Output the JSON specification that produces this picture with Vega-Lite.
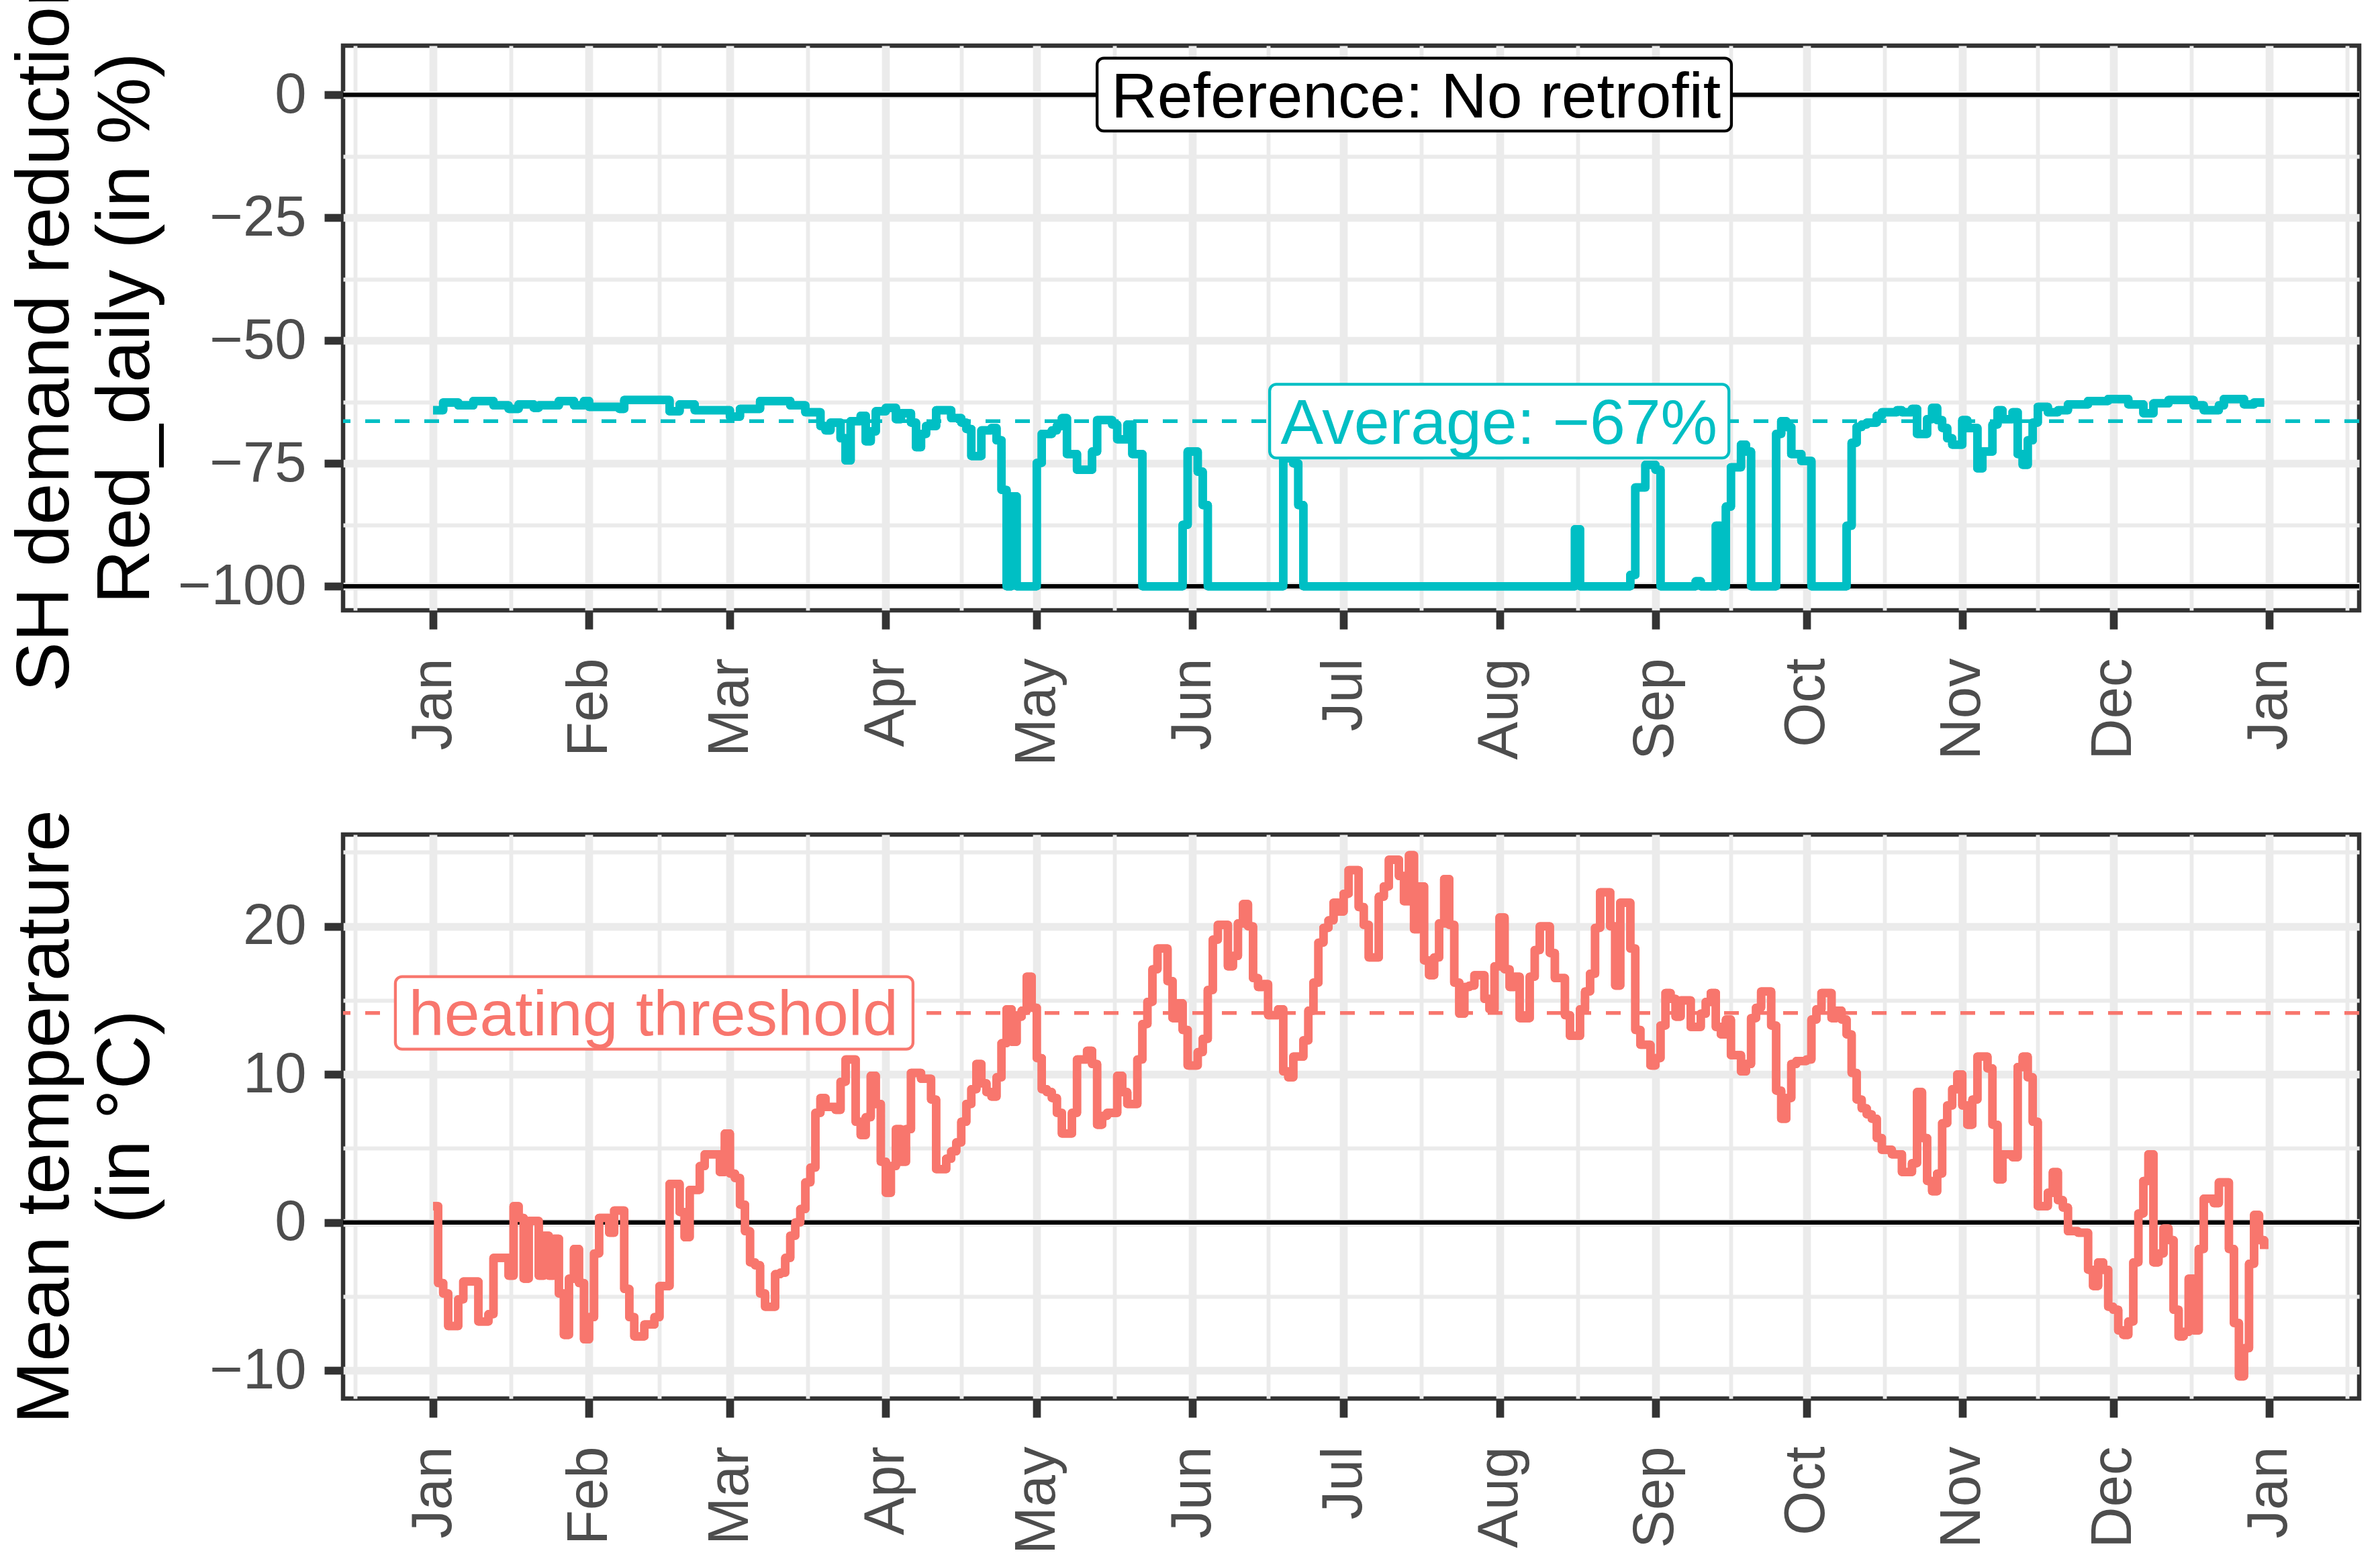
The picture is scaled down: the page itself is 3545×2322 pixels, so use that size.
{
  "$schema": "https://vega.github.io/schema/vega-lite/v6.json",
  "autosize": {"type": "none"},
  "padding": {"left": 511, "top": 68, "right": 3034, "bottom": 2254},
  "background": "white",
  "bounds": "flush",
  "spacing": 334,
  "config": {
    "font": "Liberation Sans",
    "view": {"stroke": "#333333", "strokeWidth": 6.5},
    "axis": {
      "domain": false,
      "gridColor": "#EBEBEB",
      "tickColor": "#333333",
      "tickSize": 28,
      "tickWidth": 11.7,
      "labelColor": "#4D4D4D",
      "labelFontSize": 85,
      "labelLimit": 1000,
      "labelOverlap": false,
      "labelFlush": false,
      "labelBound": false,
      "titleFontSize": 112,
      "titleColor": "black",
      "titleFontWeight": "normal",
      "titleLineHeight": 120,
      "titleLimit": 3000
    }
  },
  "datasets": {
    "reduction": [
      {"day": 0, "reduction": -64.2}, {"day": 2, "reduction": -62.6}, {"day": 5, "reduction": -63.2},
      {"day": 8, "reduction": -62.3}, {"day": 12, "reduction": -63.2}, {"day": 15, "reduction": -63.9},
      {"day": 17, "reduction": -63.0}, {"day": 20, "reduction": -63.7}, {"day": 21, "reduction": -63.2},
      {"day": 25, "reduction": -62.3}, {"day": 28, "reduction": -63.2}, {"day": 30, "reduction": -62.3},
      {"day": 31, "reduction": -63.5}, {"day": 37, "reduction": -63.9}, {"day": 38, "reduction": -62.1},
      {"day": 47, "reduction": -64.4}, {"day": 49, "reduction": -63.0}, {"day": 52, "reduction": -64.2},
      {"day": 59, "reduction": -65.5}, {"day": 61, "reduction": -63.9}, {"day": 65, "reduction": -62.3},
      {"day": 71, "reduction": -63.2}, {"day": 74, "reduction": -64.6}, {"day": 77, "reduction": -67.4},
      {"day": 78, "reduction": -68.3}, {"day": 79, "reduction": -66.7}, {"day": 81, "reduction": -69.9},
      {"day": 82, "reduction": -74.4}, {"day": 83, "reduction": -66.4}, {"day": 85, "reduction": -65.3},
      {"day": 86, "reduction": -70.5}, {"day": 87, "reduction": -68.5}, {"day": 88, "reduction": -64.4},
      {"day": 90, "reduction": -63.7}, {"day": 92, "reduction": -66.0}, {"day": 93, "reduction": -64.8},
      {"day": 95, "reduction": -66.7}, {"day": 96, "reduction": -71.7}, {"day": 97, "reduction": -69.0},
      {"day": 98, "reduction": -67.4}, {"day": 100, "reduction": -64.2}, {"day": 103, "reduction": -65.8},
      {"day": 105, "reduction": -66.7}, {"day": 106, "reduction": -68.0}, {"day": 107, "reduction": -73.5},
      {"day": 109, "reduction": -68.3}, {"day": 111, "reduction": -67.8}, {"day": 112, "reduction": -70.3},
      {"day": 113, "reduction": -80.4}, {"day": 114, "reduction": -100}, {"day": 115, "reduction": -81.7},
      {"day": 116, "reduction": -100}, {"day": 120, "reduction": -74.9}, {"day": 121, "reduction": -69.0},
      {"day": 123, "reduction": -68.3}, {"day": 124, "reduction": -67.4}, {"day": 125, "reduction": -65.8},
      {"day": 126, "reduction": -73.1}, {"day": 128, "reduction": -76.3}, {"day": 131, "reduction": -72.6},
      {"day": 132, "reduction": -66.2}, {"day": 135, "reduction": -67.1}, {"day": 136, "reduction": -70.1},
      {"day": 138, "reduction": -67.1}, {"day": 139, "reduction": -73.1}, {"day": 141, "reduction": -100},
      {"day": 149, "reduction": -87.5}, {"day": 150, "reduction": -72.6}, {"day": 152, "reduction": -76.7},
      {"day": 153, "reduction": -83.5}, {"day": 154, "reduction": -100}, {"day": 169, "reduction": -74.0},
      {"day": 171, "reduction": -75.0}, {"day": 172, "reduction": -83.5}, {"day": 173, "reduction": -100},
      {"day": 227, "reduction": -88.4}, {"day": 228, "reduction": -100}, {"day": 238, "reduction": -97.7},
      {"day": 239, "reduction": -79.9}, {"day": 241, "reduction": -75.3}, {"day": 243, "reduction": -76.3},
      {"day": 244, "reduction": -100}, {"day": 251, "reduction": -99.0}, {"day": 252, "reduction": -100},
      {"day": 255, "reduction": -87.7}, {"day": 256, "reduction": -100}, {"day": 257, "reduction": -83.8},
      {"day": 258, "reduction": -75.8}, {"day": 260, "reduction": -71.2}, {"day": 261, "reduction": -72.6},
      {"day": 262, "reduction": -100}, {"day": 267, "reduction": -69.0}, {"day": 268, "reduction": -66.4},
      {"day": 269, "reduction": -67.6}, {"day": 270, "reduction": -73.1}, {"day": 272, "reduction": -74.5},
      {"day": 274, "reduction": -100}, {"day": 281, "reduction": -87.7}, {"day": 282, "reduction": -70.8},
      {"day": 283, "reduction": -67.6}, {"day": 284, "reduction": -67.1}, {"day": 285, "reduction": -66.7},
      {"day": 287, "reduction": -65.3}, {"day": 288, "reduction": -64.6}, {"day": 291, "reduction": -64.2},
      {"day": 292, "reduction": -64.6}, {"day": 294, "reduction": -63.9}, {"day": 295, "reduction": -69.0},
      {"day": 297, "reduction": -66.0}, {"day": 298, "reduction": -63.7}, {"day": 299, "reduction": -66.2},
      {"day": 300, "reduction": -67.8}, {"day": 301, "reduction": -69.9}, {"day": 302, "reduction": -71.2},
      {"day": 304, "reduction": -66.2}, {"day": 305, "reduction": -67.8}, {"day": 307, "reduction": -76.0},
      {"day": 308, "reduction": -72.6}, {"day": 310, "reduction": -67.1}, {"day": 311, "reduction": -64.2},
      {"day": 312, "reduction": -66.0}, {"day": 314, "reduction": -64.6}, {"day": 315, "reduction": -73.1},
      {"day": 316, "reduction": -75.3}, {"day": 317, "reduction": -70.3}, {"day": 318, "reduction": -66.7},
      {"day": 319, "reduction": -63.5}, {"day": 321, "reduction": -64.6}, {"day": 323, "reduction": -64.2},
      {"day": 325, "reduction": -63.0}, {"day": 329, "reduction": -62.3}, {"day": 333, "reduction": -61.9},
      {"day": 337, "reduction": -63.0}, {"day": 340, "reduction": -64.8}, {"day": 342, "reduction": -62.8},
      {"day": 345, "reduction": -62.1}, {"day": 350, "reduction": -63.2}, {"day": 352, "reduction": -64.2},
      {"day": 355, "reduction": -63.2}, {"day": 356, "reduction": -61.9}, {"day": 360, "reduction": -63.0},
      {"day": 362, "reduction": -62.6}, {"day": 364, "reduction": -62.6}
    ],
    "temperature": [
      {"day": 0, "temp": 1.1}, {"day": 1, "temp": -4.1}, {"day": 2, "temp": -4.8}, {"day": 3, "temp": -7.0},
      {"day": 5, "temp": -5.2}, {"day": 6, "temp": -4.0}, {"day": 9, "temp": -6.7}, {"day": 11, "temp": -6.2},
      {"day": 12, "temp": -2.4}, {"day": 15, "temp": -3.6}, {"day": 16, "temp": 1.1}, {"day": 17, "temp": 0.3},
      {"day": 18, "temp": -3.8}, {"day": 19, "temp": 0.1}, {"day": 21, "temp": -3.6}, {"day": 22, "temp": -0.9},
      {"day": 23, "temp": -3.6}, {"day": 24, "temp": -1.1}, {"day": 25, "temp": -4.8}, {"day": 26, "temp": -7.6},
      {"day": 27, "temp": -3.8}, {"day": 28, "temp": -1.8}, {"day": 29, "temp": -4.1}, {"day": 30, "temp": -7.9},
      {"day": 31, "temp": -6.4}, {"day": 32, "temp": -2.1}, {"day": 33, "temp": 0.3}, {"day": 35, "temp": -0.7},
      {"day": 36, "temp": 0.8}, {"day": 38, "temp": -4.5}, {"day": 39, "temp": -6.4}, {"day": 40, "temp": -7.7},
      {"day": 42, "temp": -6.9}, {"day": 44, "temp": -6.4}, {"day": 45, "temp": -4.3}, {"day": 47, "temp": 2.6},
      {"day": 49, "temp": 0.7}, {"day": 50, "temp": -1.0}, {"day": 51, "temp": 2.2}, {"day": 53, "temp": 3.8},
      {"day": 54, "temp": 4.6}, {"day": 57, "temp": 3.4}, {"day": 58, "temp": 6.0}, {"day": 59, "temp": 3.3},
      {"day": 60, "temp": 3.0}, {"day": 61, "temp": 1.2}, {"day": 62, "temp": -0.6}, {"day": 63, "temp": -2.7},
      {"day": 64, "temp": -2.9}, {"day": 65, "temp": -4.8}, {"day": 66, "temp": -5.7}, {"day": 68, "temp": -3.5},
      {"day": 69, "temp": -3.4}, {"day": 70, "temp": -2.4}, {"day": 71, "temp": -0.9}, {"day": 72, "temp": 0.0},
      {"day": 73, "temp": 0.9}, {"day": 74, "temp": 2.7}, {"day": 75, "temp": 3.7}, {"day": 76, "temp": 7.4},
      {"day": 77, "temp": 8.4}, {"day": 78, "temp": 7.8}, {"day": 80, "temp": 7.6}, {"day": 81, "temp": 9.5},
      {"day": 82, "temp": 11.0}, {"day": 84, "temp": 6.8}, {"day": 85, "temp": 5.9}, {"day": 86, "temp": 7.1},
      {"day": 87, "temp": 9.9}, {"day": 88, "temp": 8.0}, {"day": 89, "temp": 4.1}, {"day": 90, "temp": 2.0},
      {"day": 91, "temp": 3.8}, {"day": 92, "temp": 6.3}, {"day": 93, "temp": 4.1}, {"day": 94, "temp": 6.3},
      {"day": 95, "temp": 10.1}, {"day": 97, "temp": 9.7}, {"day": 99, "temp": 8.3}, {"day": 100, "temp": 3.6},
      {"day": 102, "temp": 4.3}, {"day": 103, "temp": 4.8}, {"day": 104, "temp": 5.4}, {"day": 105, "temp": 6.8},
      {"day": 106, "temp": 8.0}, {"day": 107, "temp": 9.0}, {"day": 108, "temp": 10.7}, {"day": 109, "temp": 9.4},
      {"day": 110, "temp": 8.8}, {"day": 111, "temp": 8.5}, {"day": 112, "temp": 9.8}, {"day": 113, "temp": 12.1},
      {"day": 114, "temp": 14.4}, {"day": 115, "temp": 12.2}, {"day": 116, "temp": 13.9}, {"day": 117, "temp": 14.3},
      {"day": 118, "temp": 16.6}, {"day": 119, "temp": 14.5}, {"day": 120, "temp": 11.1}, {"day": 121, "temp": 9.0},
      {"day": 122, "temp": 8.8}, {"day": 123, "temp": 8.4}, {"day": 124, "temp": 7.4}, {"day": 125, "temp": 6.0},
      {"day": 127, "temp": 7.4}, {"day": 128, "temp": 11.0}, {"day": 130, "temp": 11.6}, {"day": 131, "temp": 10.7},
      {"day": 132, "temp": 6.6}, {"day": 133, "temp": 7.2}, {"day": 134, "temp": 7.4}, {"day": 136, "temp": 9.9},
      {"day": 137, "temp": 8.8}, {"day": 138, "temp": 8.0}, {"day": 140, "temp": 11.0}, {"day": 141, "temp": 13.4},
      {"day": 142, "temp": 14.9}, {"day": 143, "temp": 17.1}, {"day": 144, "temp": 18.5}, {"day": 146, "temp": 16.3},
      {"day": 147, "temp": 13.8}, {"day": 148, "temp": 14.8}, {"day": 149, "temp": 13.0}, {"day": 150, "temp": 10.6},
      {"day": 152, "temp": 11.5}, {"day": 153, "temp": 12.4}, {"day": 154, "temp": 15.7}, {"day": 155, "temp": 19.1},
      {"day": 156, "temp": 20.1}, {"day": 158, "temp": 17.3}, {"day": 159, "temp": 18.0}, {"day": 160, "temp": 20.2},
      {"day": 161, "temp": 21.5}, {"day": 162, "temp": 20.0}, {"day": 163, "temp": 16.5}, {"day": 164, "temp": 15.9},
      {"day": 165, "temp": 16.1}, {"day": 166, "temp": 14.0}, {"day": 168, "temp": 14.4}, {"day": 169, "temp": 10.2},
      {"day": 170, "temp": 9.8}, {"day": 171, "temp": 11.2}, {"day": 173, "temp": 12.3}, {"day": 174, "temp": 14.3},
      {"day": 175, "temp": 16.2}, {"day": 176, "temp": 18.9}, {"day": 177, "temp": 19.9}, {"day": 178, "temp": 20.4},
      {"day": 179, "temp": 21.6}, {"day": 180, "temp": 21.0}, {"day": 181, "temp": 22.2}, {"day": 182, "temp": 23.8},
      {"day": 184, "temp": 21.3}, {"day": 185, "temp": 20.1}, {"day": 186, "temp": 17.9}, {"day": 188, "temp": 22.0},
      {"day": 189, "temp": 22.7}, {"day": 190, "temp": 24.5}, {"day": 192, "temp": 23.4}, {"day": 193, "temp": 21.7},
      {"day": 194, "temp": 24.8}, {"day": 195, "temp": 19.8}, {"day": 196, "temp": 22.7}, {"day": 197, "temp": 17.7},
      {"day": 198, "temp": 16.7}, {"day": 199, "temp": 17.9}, {"day": 200, "temp": 20.2}, {"day": 201, "temp": 23.2},
      {"day": 202, "temp": 20.1}, {"day": 203, "temp": 16.2}, {"day": 204, "temp": 14.1}, {"day": 205, "temp": 15.9},
      {"day": 206, "temp": 16.0}, {"day": 207, "temp": 16.7}, {"day": 209, "temp": 15.1}, {"day": 210, "temp": 14.4},
      {"day": 211, "temp": 17.3}, {"day": 212, "temp": 20.6}, {"day": 213, "temp": 17.1}, {"day": 214, "temp": 15.9},
      {"day": 215, "temp": 16.6}, {"day": 216, "temp": 13.8}, {"day": 218, "temp": 16.6}, {"day": 219, "temp": 18.4},
      {"day": 220, "temp": 20.0}, {"day": 222, "temp": 18.2}, {"day": 223, "temp": 16.5}, {"day": 225, "temp": 14.0},
      {"day": 226, "temp": 12.6}, {"day": 228, "temp": 14.4}, {"day": 229, "temp": 15.6}, {"day": 230, "temp": 16.8},
      {"day": 231, "temp": 19.9}, {"day": 232, "temp": 22.3}, {"day": 234, "temp": 20.0}, {"day": 235, "temp": 16.0},
      {"day": 236, "temp": 21.6}, {"day": 238, "temp": 18.5}, {"day": 239, "temp": 13.0}, {"day": 240, "temp": 12.0},
      {"day": 242, "temp": 10.6}, {"day": 243, "temp": 11.1}, {"day": 244, "temp": 13.3}, {"day": 245, "temp": 15.5},
      {"day": 246, "temp": 15.1}, {"day": 247, "temp": 13.9}, {"day": 248, "temp": 15.0}, {"day": 250, "temp": 13.2},
      {"day": 252, "temp": 14.1}, {"day": 253, "temp": 14.9}, {"day": 254, "temp": 15.5}, {"day": 255, "temp": 13.2},
      {"day": 256, "temp": 12.7}, {"day": 257, "temp": 13.7}, {"day": 258, "temp": 11.3}, {"day": 260, "temp": 10.2},
      {"day": 261, "temp": 10.7}, {"day": 262, "temp": 13.8}, {"day": 263, "temp": 14.5}, {"day": 264, "temp": 15.6},
      {"day": 266, "temp": 13.3}, {"day": 267, "temp": 8.9}, {"day": 268, "temp": 7.0}, {"day": 269, "temp": 8.4},
      {"day": 270, "temp": 10.7}, {"day": 271, "temp": 10.9}, {"day": 273, "temp": 11.0}, {"day": 274, "temp": 13.7},
      {"day": 275, "temp": 14.4}, {"day": 276, "temp": 15.5}, {"day": 278, "temp": 13.8}, {"day": 279, "temp": 14.3},
      {"day": 280, "temp": 13.7}, {"day": 281, "temp": 12.7}, {"day": 282, "temp": 10.1}, {"day": 283, "temp": 8.3},
      {"day": 284, "temp": 7.7}, {"day": 285, "temp": 7.3}, {"day": 286, "temp": 7.0}, {"day": 287, "temp": 5.7},
      {"day": 288, "temp": 4.9}, {"day": 290, "temp": 4.6}, {"day": 292, "temp": 3.4}, {"day": 294, "temp": 4.0},
      {"day": 295, "temp": 8.8}, {"day": 296, "temp": 5.7}, {"day": 297, "temp": 2.8}, {"day": 298, "temp": 2.1},
      {"day": 299, "temp": 3.3}, {"day": 300, "temp": 6.7}, {"day": 301, "temp": 7.9}, {"day": 302, "temp": 9.0},
      {"day": 303, "temp": 10.0}, {"day": 304, "temp": 7.9}, {"day": 305, "temp": 6.6}, {"day": 306, "temp": 8.3},
      {"day": 307, "temp": 11.2}, {"day": 309, "temp": 10.4}, {"day": 310, "temp": 6.6}, {"day": 311, "temp": 2.9},
      {"day": 312, "temp": 4.6}, {"day": 314, "temp": 4.4}, {"day": 315, "temp": 10.5}, {"day": 316, "temp": 11.2},
      {"day": 317, "temp": 9.8}, {"day": 318, "temp": 6.8}, {"day": 319, "temp": 1.1}, {"day": 321, "temp": 2.0},
      {"day": 322, "temp": 3.4}, {"day": 323, "temp": 1.5}, {"day": 324, "temp": 1.0}, {"day": 325, "temp": -0.6},
      {"day": 327, "temp": -0.7}, {"day": 329, "temp": -3.2}, {"day": 330, "temp": -4.3}, {"day": 331, "temp": -2.7},
      {"day": 332, "temp": -3.2}, {"day": 333, "temp": -5.7}, {"day": 334, "temp": -5.9}, {"day": 335, "temp": -7.3},
      {"day": 336, "temp": -7.6}, {"day": 337, "temp": -6.7}, {"day": 338, "temp": -2.7}, {"day": 339, "temp": 0.6},
      {"day": 340, "temp": 2.8}, {"day": 341, "temp": 4.6}, {"day": 342, "temp": -2.7}, {"day": 343, "temp": -2.1},
      {"day": 344, "temp": -0.4}, {"day": 345, "temp": -1.2}, {"day": 346, "temp": -5.9}, {"day": 347, "temp": -7.7},
      {"day": 348, "temp": -7.4}, {"day": 349, "temp": -3.8}, {"day": 350, "temp": -7.3}, {"day": 351, "temp": -1.8},
      {"day": 352, "temp": 1.6}, {"day": 354, "temp": 1.3}, {"day": 355, "temp": 2.7}, {"day": 357, "temp": -1.8},
      {"day": 358, "temp": -6.8}, {"day": 359, "temp": -10.4}, {"day": 360, "temp": -8.5}, {"day": 361, "temp": -2.8},
      {"day": 362, "temp": 0.5}, {"day": 363, "temp": -1.2}, {"day": 364, "temp": -1.8}
    ]
  },
  "vconcat": [
    {
      "width": 3003,
      "height": 841,
      "layer": [
        {
          "data": {"name": "reduction"},
          "mark": {"type": "line", "interpolate": "step-after", "color": "#00BFC4", "strokeWidth": 12.5, "strokeJoin": "round"},
          "encoding": {
            "x": {
              "field": "day",
              "type": "quantitative",
              "scale": {"domain": [-17.9, 382.9], "nice": false, "zero": false},
              "axis": {
                "title": null,
                "values": [-15.5, 0, 15.5, 31, 45, 59, 74.5, 90, 105, 120, 135.5, 151, 166, 181, 196.5, 212, 227.5, 243, 258, 273, 288.5, 304, 319, 334, 349.5, 365, 380.5],
                "labelExpr": "indexof([0,31,59,90,120,151,181,212,243,273,304,334,365], datum.value) >= 0 ? ['Jan','Feb','Mar','Apr','May','Jun','Jul','Aug','Sep','Oct','Nov','Dec','Jan'][indexof([0,31,59,90,120,151,181,212,243,273,304,334,365], datum.value)] : ''",
                "labelAngle": 270,
                "labelAlign": "right",
                "labelBaseline": "middle",
                "labelPadding": 43,
                "gridWidth": {"condition": {"test": "indexof([0,31,59,90,120,151,181,212,243,273,304,334,365], datum.value) >= 0", "value": 11.7}, "value": 5.8},
                "tickOpacity": {"condition": {"test": "indexof([0,31,59,90,120,151,181,212,243,273,304,334,365], datum.value) >= 0", "value": 1}, "value": 0}
              }
            },
            "y": {
              "field": "reduction",
              "type": "quantitative",
              "scale": {"domain": [-104.9, 10], "nice": false, "zero": false},
              "axis": {
                "title": ["SH demand reduction", "Red_daily (in %)"],
                "titleAngle": 270,
                "titleAlign": "center",
                "titleBaseline": "middle",
                "titleX": -444,
                "titleY": 420.5,
                "values": [-100, -87.5, -75, -62.5, -50, -37.5, -25, -12.5, 0],
                "format": "d",
                "labelExpr": "datum.value % 25 == 0 ? datum.label : ''",
                "labelPadding": 27,
                "gridWidth": {"condition": {"test": "datum.value % 25 == 0", "value": 11.7}, "value": 5.8},
                "tickOpacity": {"condition": {"test": "datum.value % 25 == 0", "value": 1}, "value": 0}
              }
            }
          }
        },
        {
          "data": {"values": [{}]},
          "mark": {"type": "rule", "color": "black", "strokeWidth": 6.5},
          "encoding": {"y": {"datum": 0}}
        },
        {
          "data": {"values": [{}]},
          "mark": {"type": "rule", "color": "black", "strokeWidth": 6.5},
          "encoding": {"y": {"datum": -100}}
        },
        {
          "data": {"values": [{}]},
          "mark": {"type": "rule", "color": "#00BFC4", "strokeWidth": 5.5, "strokeDash": [22, 22]},
          "encoding": {"y": {"datum": -66.4}}
        },
        {
          "data": {"name": "reduction"},
          "mark": {"type": "line", "interpolate": "step-after", "color": "#00BFC4", "strokeWidth": 12.5, "strokeJoin": "round"},
          "encoding": {
            "x": {"field": "day", "type": "quantitative"},
            "y": {"field": "reduction", "type": "quantitative"}
          }
        },
        {
          "data": {"values": [{}]},
          "mark": {"type": "rect", "fill": "white", "stroke": "black", "strokeWidth": 4.3, "cornerRadius": 10},
          "encoding": {"x": {"datum": 132.0}, "x2": {"datum": 258.1}, "y": {"datum": 7.45}, "y2": {"datum": -7.38}}
        },
        {
          "data": {"values": [{}]},
          "mark": {"type": "text", "text": "Reference: No retrofit", "fontSize": 95, "color": "black", "align": "center", "baseline": "alphabetic", "dy": 34},
          "encoding": {"x": {"datum": 195.4}, "y": {"datum": 0}}
        },
        {
          "data": {"values": [{}]},
          "mark": {"type": "rect", "fill": "white", "stroke": "#00BFC4", "strokeWidth": 4.3, "cornerRadius": 10},
          "encoding": {"x": {"datum": 166.3}, "x2": {"datum": 257.6}, "y": {"datum": -58.9}, "y2": {"datum": -73.9}}
        },
        {
          "data": {"values": [{}]},
          "mark": {"type": "text", "text": "Average: −67%", "fontSize": 95, "color": "#00BFC4", "align": "center", "baseline": "alphabetic", "dy": 34},
          "encoding": {"x": {"datum": 211.9}, "y": {"datum": -66.4}}
        }
      ]
    },
    {
      "width": 3003,
      "height": 840,
      "layer": [
        {
          "data": {"name": "temperature"},
          "mark": {"type": "line", "interpolate": "step-after", "color": "#F8766D", "strokeWidth": 12.5, "strokeJoin": "round"},
          "encoding": {
            "x": {
              "field": "day",
              "type": "quantitative",
              "scale": {"domain": [-17.9, 382.9], "nice": false, "zero": false},
              "axis": {
                "title": null,
                "values": [-15.5, 0, 15.5, 31, 45, 59, 74.5, 90, 105, 120, 135.5, 151, 166, 181, 196.5, 212, 227.5, 243, 258, 273, 288.5, 304, 319, 334, 349.5, 365, 380.5],
                "labelExpr": "indexof([0,31,59,90,120,151,181,212,243,273,304,334,365], datum.value) >= 0 ? ['Jan','Feb','Mar','Apr','May','Jun','Jul','Aug','Sep','Oct','Nov','Dec','Jan'][indexof([0,31,59,90,120,151,181,212,243,273,304,334,365], datum.value)] : ''",
                "labelAngle": 270,
                "labelAlign": "right",
                "labelBaseline": "middle",
                "labelPadding": 43,
                "gridWidth": {"condition": {"test": "indexof([0,31,59,90,120,151,181,212,243,273,304,334,365], datum.value) >= 0", "value": 11.7}, "value": 5.8},
                "tickOpacity": {"condition": {"test": "indexof([0,31,59,90,120,151,181,212,243,273,304,334,365], datum.value) >= 0", "value": 1}, "value": 0}
              }
            },
            "y": {
              "field": "temp",
              "type": "quantitative",
              "scale": {"domain": [-11.9, 26.2], "nice": false, "zero": false},
              "axis": {
                "title": ["Mean temperature", "(in °C)"],
                "titleAngle": 270,
                "titleAlign": "center",
                "titleBaseline": "middle",
                "titleX": -444,
                "titleY": 420,
                "values": [-10, -5, 0, 5, 10, 15, 20, 25],
                "format": "d",
                "labelExpr": "datum.value % 10 == 0 ? datum.label : ''",
                "labelPadding": 27,
                "gridWidth": {"condition": {"test": "datum.value % 10 == 0", "value": 11.7}, "value": 5.8},
                "tickOpacity": {"condition": {"test": "datum.value % 10 == 0", "value": 1}, "value": 0}
              }
            }
          }
        },
        {
          "data": {"values": [{}]},
          "mark": {"type": "rule", "color": "black", "strokeWidth": 6.5},
          "encoding": {"y": {"datum": 0}}
        },
        {
          "data": {"values": [{}]},
          "mark": {"type": "rule", "color": "#F8766D", "strokeWidth": 5.5, "strokeDash": [22, 22]},
          "encoding": {"y": {"datum": 14.15}}
        },
        {
          "data": {"name": "temperature"},
          "mark": {"type": "line", "interpolate": "step-after", "color": "#F8766D", "strokeWidth": 12.5, "strokeJoin": "round"},
          "encoding": {
            "x": {"field": "day", "type": "quantitative"},
            "y": {"field": "temp", "type": "quantitative"}
          }
        },
        {
          "data": {"values": [{}]},
          "mark": {"type": "rect", "fill": "white", "stroke": "#F8766D", "strokeWidth": 4.3, "cornerRadius": 10},
          "encoding": {"x": {"datum": -7.5}, "x2": {"datum": 95.4}, "y": {"datum": 16.6}, "y2": {"datum": 11.7}}
        },
        {
          "data": {"values": [{}]},
          "mark": {"type": "text", "text": "heating threshold", "fontSize": 95, "color": "#F8766D", "align": "center", "baseline": "alphabetic", "dy": 33},
          "encoding": {"x": {"datum": 43.8}, "y": {"datum": 14.15}}
        }
      ]
    }
  ]
}
